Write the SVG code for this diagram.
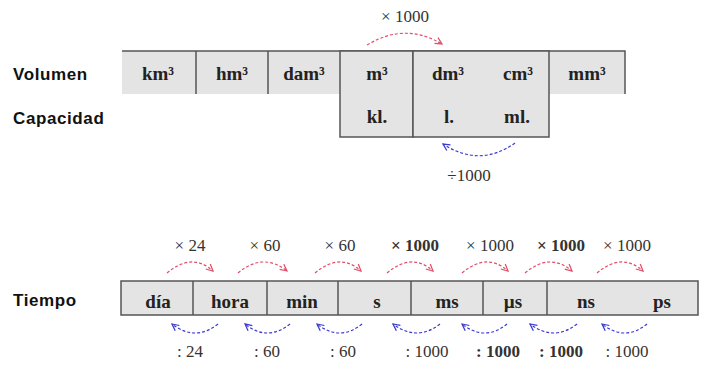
<svg xmlns="http://www.w3.org/2000/svg" width="705" height="365" viewBox="0 0 705 365">
<defs>
<style>
.lbl{font-family:"Liberation Sans",Arial,sans-serif;font-weight:bold;font-size:17px;letter-spacing:0.6px;fill:#111}
.u{font-family:"Liberation Serif","Times New Roman",serif;font-weight:bold;font-size:19px;fill:#222;text-anchor:middle}
.f{font-family:"Liberation Serif","Times New Roman",serif;font-size:17px;fill:#333;text-anchor:middle}
.b{font-weight:bold}
.cell{fill:#e4e4e4;stroke:none}
.ln{stroke:#555;stroke-width:1.5;fill:none}
.box{fill:#e4e4e4;stroke:#555;stroke-width:1.5}
.red{fill:none;stroke:#e0506a;stroke-width:1.2;stroke-dasharray:3 2;marker-end:url(#ar)}
.blue{fill:none;stroke:#3a3ad0;stroke-width:1.2;stroke-dasharray:3 2;marker-end:url(#ab)}
</style>
<marker id="ar" viewBox="0 0 10 10" refX="9" refY="5" markerWidth="7" markerHeight="7" orient="auto"><path d="M1,1 L9,5 L1,9" fill="none" stroke="#e0506a" stroke-width="1.5"/></marker>
<marker id="ab" viewBox="0 0 10 10" refX="9" refY="5" markerWidth="7" markerHeight="7" orient="auto"><path d="M1,1 L9,5 L1,9" fill="none" stroke="#3a3ad0" stroke-width="1.5"/></marker>
</defs>
<rect width="705" height="365" fill="#fff"/>

<g id="labels">
<text class="lbl" x="13" y="80">Volumen</text>
<text class="lbl" x="13" y="124">Capacidad</text>
<text class="lbl" x="13" y="306">Tiempo</text>
</g>

<g id="volumen">
<rect class="cell" x="122" y="51" width="218" height="43"/>
<rect class="cell" x="549" y="51" width="76" height="43"/>
<path class="ln" d="M122,51 H625 V94 M196,51 V94 M268,51 V94"/>
<text class="u" x="158" y="80">km³</text>
<text class="u" x="232" y="80">hm³</text>
<text class="u" x="304" y="80">dam³</text>
<text class="u" x="587" y="80">mm³</text>
</g>
<g id="m3-kl">
<rect class="box" x="340" y="51" width="73" height="86"/>
<text class="u" x="377" y="80">m³</text>
<text class="u" x="377" y="123">kl.</text>
</g>
<g id="dm3-cm3">
<rect class="box" x="413" y="51" width="136" height="86"/>
<text class="u" x="448" y="80">dm³</text>
<text class="u" x="518" y="80">cm³</text>
<text class="u" x="449" y="123">l.</text>
<text class="u" x="517" y="123">ml.</text>
</g>

<g id="tiempo">
<rect class="box" x="121" y="281" width="577" height="34"/>
<path class="ln" d="M193,281 V315 M267,281 V315 M338,281 V315 M411,281 V315 M483,281 V315 M547,281 V315"/>
<text class="u" x="158" y="308">día</text>
<text class="u" x="230" y="308">hora</text>
<text class="u" x="302" y="308">min</text>
<text class="u" x="377" y="308">s</text>
<text class="u" x="447" y="308">ms</text>
<text class="u" x="513" y="308">µs</text>
<text class="u" x="586" y="308">ns</text>
<text class="u" x="662" y="308">ps</text>
</g>

<g id="connectors">
<path class="red" d="M367,45 Q405,22 442,44"/>
<path class="blue" d="M515,143 Q480,168 443,144"/>
<path class="red" d="M167,273 Q192,252 213,271"/>
<path class="red" d="M238,273 Q263,252 287,271"/>
<path class="red" d="M315,273 Q340,252 361,271"/>
<path class="red" d="M387,273 Q412,252 433,271"/>
<path class="red" d="M462,273 Q487,252 508,271"/>
<path class="red" d="M525,273 Q550,252 572,271"/>
<path class="red" d="M597,273 Q622,252 643,271"/>
<path class="blue" d="M218,324 Q195,342 172,324"/>
<path class="blue" d="M290,324 Q267,342 245,324"/>
<path class="blue" d="M362,324 Q340,342 317,324"/>
<path class="blue" d="M440,324 Q417,342 393,324"/>
<path class="blue" d="M507,324 Q485,342 462,324"/>
<path class="blue" d="M577,324 Q554,342 530,324"/>
<path class="blue" d="M647,324 Q625,342 602,324"/>
</g>

<g id="factors">
<text class="f" x="405" y="22">× 1000</text>
<text class="f" x="469" y="181">÷1000</text>
<text class="f" x="190" y="251">× 24</text>
<text class="f" x="265" y="251">× 60</text>
<text class="f" x="340" y="251">× 60</text>
<text class="f b" x="415" y="251">× 1000</text>
<text class="f" x="490" y="251">× 1000</text>
<text class="f b" x="561" y="251">× 1000</text>
<text class="f" x="627" y="251">× 1000</text>
<text class="f" x="190" y="357">: 24</text>
<text class="f" x="267" y="357">: 60</text>
<text class="f" x="343" y="357">: 60</text>
<text class="f" x="427" y="357">: 1000</text>
<text class="f b" x="498" y="357">: 1000</text>
<text class="f b" x="561" y="357">: 1000</text>
<text class="f" x="627" y="357">: 1000</text>
</g>
</svg>
